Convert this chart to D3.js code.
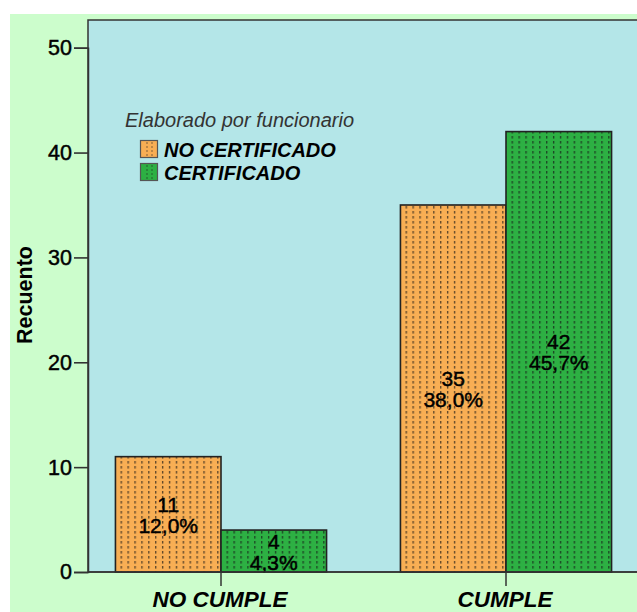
<!DOCTYPE html>
<html>
<head>
<meta charset="utf-8">
<script src="https://cdn.jsdelivr.net/npm/d3@7"></script>
<style>
  html, body { margin: 0; padding: 0; background: #ffffff; }
  svg { display: block; font-family: "Liberation Sans", Arial, sans-serif; }
</style>
</head>
<body>
<svg id="chart" width="637" height="612"></svg>
<script>
// ---- data ----
const categories = ["NO CUMPLE", "CUMPLE"];
const seriesNames = ["NO CERTIFICADO", "CERTIFICADO"];
const noCertificado = [11, 35];
const certificado = [4, 42];
const noCertificadoPct = ["12,0%", "38,0%"];
const certificadoPct = ["4,3%", "45,7%"];
const yTicks = [0, 10, 20, 30, 40, 50];
const legendTitle = "Elaborado por funcionario";
const yTitle = "Recuento";

const seriesColors = ["#f8ae54", "#2db043"];

const svg = d3.select("#chart");
const W = 637, H = 612;

// pattern defs
const defs = svg.append("defs");
seriesColors.forEach((c, i) => {
  const p = defs.append("pattern")
    .attr("id", "pat" + i)
    .attr("patternUnits", "userSpaceOnUse")
    .attr("width", 6.9).attr("height", 5)
    .attr("x", i === 0 ? 115 : 221);
  p.append("rect").attr("width", 6.9).attr("height", 5).attr("fill", c);
  p.append("rect").attr("x", 3).attr("y", 1).attr("width", 1.3).attr("height", 2.6)
    .attr("fill", "rgba(20,20,20,0.7)");
});

// outer background
svg.append("rect").attr("x", 10).attr("y", 14).attr("width", W - 10).attr("height", H - 14)
  .attr("fill", "#ccfdcc");

const plot = { left: 88, top: 20, bottom: 572 };

// plot background
svg.append("rect").attr("x", plot.left).attr("y", plot.top)
  .attr("width", W - plot.left + 20).attr("height", plot.bottom - plot.top)
  .attr("fill", "#b4e6e8")
  .attr("stroke", "#333").attr("stroke-width", 1.5);

// scales
const y = d3.scaleLinear().domain([0, 50]).range([plot.bottom, 47.7]);
const x0 = d3.scaleBand().domain(categories).range([78.5, 648.5]).paddingInner(0).paddingOuter(0);
const x1 = d3.scaleBand().domain(seriesNames).range([0, x0.bandwidth()]).paddingInner(0).paddingOuter(0.35);

const rows = categories.map((c, i) => ({
  cat: c,
  vals: [
    { s: seriesNames[0], v: noCertificado[i], pct: noCertificadoPct[i], k: 0 },
    { s: seriesNames[1], v: certificado[i], pct: certificadoPct[i], k: 1 }
  ]
}));

const g = svg.append("g");
const groups = g.selectAll("g.cat").data(rows).join("g")
  .attr("transform", d => `translate(${x0(d.cat)},0)`);

groups.selectAll("rect").data(d => d.vals).join("rect")
  .attr("x", d => x1(d.s))
  .attr("y", d => y(d.v))
  .attr("width", x1.bandwidth())
  .attr("height", d => y(0) - y(d.v))
  .attr("fill", d => `url(#pat${d.k})`)
  .attr("stroke", "#222").attr("stroke-width", 1.6);

// bar labels
const lab = groups.selectAll("text.lab").data(d => d.vals).join("text")
  .attr("class", "lab")
  .attr("text-anchor", "middle")
  .attr("font-size", 21)
  .attr("fill", "#000").attr("stroke", "#000").attr("stroke-width", 0.45);
lab.append("tspan")
  .attr("x", d => x1(d.s) + x1.bandwidth() / 2)
  .attr("y", d => (y(d.v) + y(0)) / 2 - 2.5)
  .text(d => d.v);
lab.append("tspan")
  .attr("x", d => x1(d.s) + x1.bandwidth() / 2)
  .attr("y", d => (y(d.v) + y(0)) / 2 + 18.5)
  .text(d => d.pct);

// y axis
const yAxis = svg.append("g").attr("transform", `translate(${plot.left},0)`)
  .call(d3.axisLeft(y).tickValues(yTicks).tickSize(14).tickPadding(2).tickFormat(d3.format("d")));
yAxis.select(".domain").attr("stroke", "#333").attr("stroke-width", 1.5);
yAxis.selectAll(".tick line").attr("stroke", "#333").attr("stroke-width", 1.6);
yAxis.selectAll(".tick text").attr("font-size", 21.5).attr("fill", "#000")
  .attr("stroke", "#000").attr("stroke-width", 0.45)
  .attr("font-family", "Liberation Sans, Arial, sans-serif");

// x axis
const xAxisG = svg.append("g").attr("transform", `translate(0,${plot.bottom})`);
xAxisG.append("line").attr("x1", plot.left).attr("x2", W + 5).attr("y1", 0).attr("y2", 0)
  .attr("stroke", "#333").attr("stroke-width", 1.5);
xAxisG.selectAll("line.tk").data(categories).join("line").attr("class", "tk")
  .attr("x1", d => x0(d) + x0.bandwidth() / 2).attr("x2", d => x0(d) + x0.bandwidth() / 2)
  .attr("y1", 0).attr("y2", 14).attr("stroke", "#333").attr("stroke-width", 1.5);
xAxisG.selectAll("text").data(categories).join("text")
  .attr("x", d => x0(d) + x0.bandwidth() / 2 - 1)
  .attr("y", 35)
  .attr("text-anchor", "middle")
  .attr("font-size", 22.5).attr("font-weight", "bold").attr("font-style", "italic")
  .attr("fill", "#000")
  .text(d => d);

// y title
svg.append("text")
  .attr("transform", "translate(32,295) rotate(-90)")
  .attr("text-anchor", "middle")
  .attr("font-size", 21.5).attr("font-weight", "bold").attr("fill", "#000")
  .text(yTitle);

// legend
const lg = svg.append("g");
lg.append("text").attr("x", 125).attr("y", 127)
  .attr("font-size", 20).attr("font-style", "italic").attr("fill", "#333")
  .text(legendTitle);
const li = lg.selectAll("g.li").data(seriesNames).join("g").attr("class", "li")
  .attr("transform", (d, i) => `translate(140,${140 + i * 23})`);
li.append("rect").attr("x", 0.5).attr("y", 0.5).attr("width", 17).attr("height", 17)
  .attr("fill", (d, i) => seriesColors[i])
  .attr("stroke", "#555").attr("stroke-width", 1.2);
li.append("line").attr("x1", 7).attr("x2", 7).attr("y1", 2).attr("y2", 16)
  .attr("stroke", "rgba(30,30,30,0.55)").attr("stroke-dasharray", "2,2");
li.append("line").attr("x1", 12).attr("x2", 12).attr("y1", 2).attr("y2", 16)
  .attr("stroke", "rgba(30,30,30,0.55)").attr("stroke-dasharray", "2,2");
li.append("text").attr("x", 24).attr("y", 17)
  .attr("font-size", 20).attr("font-weight", "bold").attr("font-style", "italic")
  .attr("fill", "#000")
  .text(d => d);
</script>
</body>
</html>
